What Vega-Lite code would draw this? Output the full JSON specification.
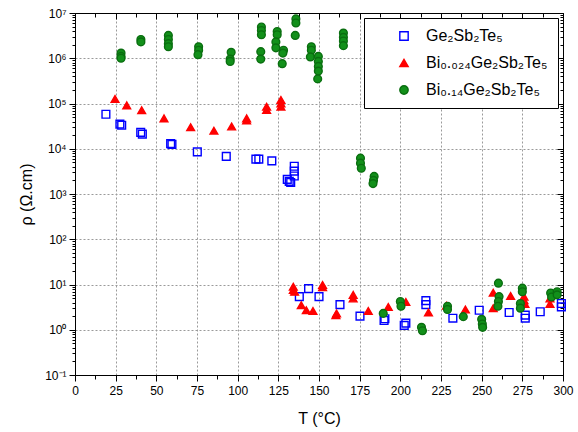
{
  "$schema": "https://vega.github.io/schema/vega-lite/v6.json",
  "width": 488,
  "height": 362,
  "autosize": "none",
  "padding": {"left": 75, "top": 13, "right": 15, "bottom": 57},
  "background": "white",
  "config": {
    "view": {"stroke": "black", "strokeWidth": 1},
    "font": "Liberation Sans",
    "axis": {"domainColor": "black", "tickColor": "black", "labelColor": "black", "titleColor": "black", "labelFont": "Liberation Sans", "titleFont": "Liberation Sans", "titleFontWeight": "normal"}
  },
  "datasets": {
    "pts": [
      {"series": "Ge₂Sb₂Te₅", "T": 19, "rho": 58000},
      {"series": "Ge₂Sb₂Te₅", "T": 27.6, "rho": 35000},
      {"series": "Ge₂Sb₂Te₅", "T": 28.7, "rho": 33000},
      {"series": "Ge₂Sb₂Te₅", "T": 40.4, "rho": 23000},
      {"series": "Ge₂Sb₂Te₅", "T": 41.4, "rho": 21000},
      {"series": "Ge₂Sb₂Te₅", "T": 58.8, "rho": 13000},
      {"series": "Ge₂Sb₂Te₅", "T": 59.6, "rho": 12500},
      {"series": "Ge₂Sb₂Te₅", "T": 75.2, "rho": 8500},
      {"series": "Ge₂Sb₂Te₅", "T": 93, "rho": 6800},
      {"series": "Ge₂Sb₂Te₅", "T": 111.2, "rho": 5900},
      {"series": "Ge₂Sb₂Te₅", "T": 113, "rho": 5900},
      {"series": "Ge₂Sb₂Te₅", "T": 121, "rho": 5400},
      {"series": "Ge₂Sb₂Te₅", "T": 130.5, "rho": 2100},
      {"series": "Ge₂Sb₂Te₅", "T": 131.7, "rho": 1900},
      {"series": "Ge₂Sb₂Te₅", "T": 132.6, "rho": 1800},
      {"series": "Ge₂Sb₂Te₅", "T": 134.8, "rho": 4100},
      {"series": "Ge₂Sb₂Te₅", "T": 134.8, "rho": 3200},
      {"series": "Ge₂Sb₂Te₅", "T": 134.8, "rho": 2500},
      {"series": "Ge₂Sb₂Te₅", "T": 137.9, "rho": 5.4},
      {"series": "Ge₂Sb₂Te₅", "T": 143.6, "rho": 8.1},
      {"series": "Ge₂Sb₂Te₅", "T": 150, "rho": 5.4},
      {"series": "Ge₂Sb₂Te₅", "T": 162.9, "rho": 3.6},
      {"series": "Ge₂Sb₂Te₅", "T": 175.2, "rho": 2.0},
      {"series": "Ge₂Sb₂Te₅", "T": 190, "rho": 1.6},
      {"series": "Ge₂Sb₂Te₅", "T": 190.5, "rho": 1.75},
      {"series": "Ge₂Sb₂Te₅", "T": 202.4, "rho": 1.25},
      {"series": "Ge₂Sb₂Te₅", "T": 203.4, "rho": 1.4},
      {"series": "Ge₂Sb₂Te₅", "T": 215.7, "rho": 4.4},
      {"series": "Ge₂Sb₂Te₅", "T": 215.7, "rho": 3.6},
      {"series": "Ge₂Sb₂Te₅", "T": 232.3, "rho": 1.8},
      {"series": "Ge₂Sb₂Te₅", "T": 248.5, "rho": 2.7},
      {"series": "Ge₂Sb₂Te₅", "T": 266.9, "rho": 2.4},
      {"series": "Ge₂Sb₂Te₅", "T": 276.8, "rho": 2.1},
      {"series": "Ge₂Sb₂Te₅", "T": 276.8, "rho": 1.8},
      {"series": "Ge₂Sb₂Te₅", "T": 286, "rho": 2.5},
      {"series": "Ge₂Sb₂Te₅", "T": 299, "rho": 3.8},
      {"series": "Ge₂Sb₂Te₅", "T": 299, "rho": 3.2},
      {"series": "Bi₀.₀₂₄Ge₂Sb₂Te₅", "T": 24.6, "rho": 126000},
      {"series": "Bi₀.₀₂₄Ge₂Sb₂Te₅", "T": 31.8, "rho": 91000},
      {"series": "Bi₀.₀₂₄Ge₂Sb₂Te₅", "T": 41, "rho": 71000},
      {"series": "Bi₀.₀₂₄Ge₂Sb₂Te₅", "T": 54.7, "rho": 47000},
      {"series": "Bi₀.₀₂₄Ge₂Sb₂Te₅", "T": 71.1, "rho": 30000},
      {"series": "Bi₀.₀₂₄Ge₂Sb₂Te₅", "T": 85.4, "rho": 25000},
      {"series": "Bi₀.₀₂₄Ge₂Sb₂Te₅", "T": 96.3, "rho": 31000},
      {"series": "Bi₀.₀₂₄Ge₂Sb₂Te₅", "T": 105.5, "rho": 47000},
      {"series": "Bi₀.₀₂₄Ge₂Sb₂Te₅", "T": 105.5, "rho": 42000},
      {"series": "Bi₀.₀₂₄Ge₂Sb₂Te₅", "T": 117.8, "rho": 85000},
      {"series": "Bi₀.₀₂₄Ge₂Sb₂Te₅", "T": 117.8, "rho": 72000},
      {"series": "Bi₀.₀₂₄Ge₂Sb₂Te₅", "T": 126.6, "rho": 120000},
      {"series": "Bi₀.₀₂₄Ge₂Sb₂Te₅", "T": 126.6, "rho": 100000},
      {"series": "Bi₀.₀₂₄Ge₂Sb₂Te₅", "T": 126.6, "rho": 85000},
      {"series": "Bi₀.₀₂₄Ge₂Sb₂Te₅", "T": 134.2, "rho": 8.9},
      {"series": "Bi₀.₀₂₄Ge₂Sb₂Te₅", "T": 134.2, "rho": 7.6},
      {"series": "Bi₀.₀₂₄Ge₂Sb₂Te₅", "T": 135, "rho": 6.9},
      {"series": "Bi₀.₀₂₄Ge₂Sb₂Te₅", "T": 139.1, "rho": 3.5},
      {"series": "Bi₀.₀₂₄Ge₂Sb₂Te₅", "T": 142.2, "rho": 2.7},
      {"series": "Bi₀.₀₂₄Ge₂Sb₂Te₅", "T": 146.3, "rho": 2.6},
      {"series": "Bi₀.₀₂₄Ge₂Sb₂Te₅", "T": 152.2, "rho": 9.8},
      {"series": "Bi₀.₀₂₄Ge₂Sb₂Te₅", "T": 152.2, "rho": 8.7},
      {"series": "Bi₀.₀₂₄Ge₂Sb₂Te₅", "T": 160.4, "rho": 2.1},
      {"series": "Bi₀.₀₂₄Ge₂Sb₂Te₅", "T": 160.8, "rho": 2.3},
      {"series": "Bi₀.₀₂₄Ge₂Sb₂Te₅", "T": 171, "rho": 5.9},
      {"series": "Bi₀.₀₂₄Ge₂Sb₂Te₅", "T": 171, "rho": 4.9},
      {"series": "Bi₀.₀₂₄Ge₂Sb₂Te₅", "T": 180.3, "rho": 2.6},
      {"series": "Bi₀.₀₂₄Ge₂Sb₂Te₅", "T": 192.6, "rho": 3.2},
      {"series": "Bi₀.₀₂₄Ge₂Sb₂Te₅", "T": 203.4, "rho": 4.1},
      {"series": "Bi₀.₀₂₄Ge₂Sb₂Te₅", "T": 217.3, "rho": 2.4},
      {"series": "Bi₀.₀₂₄Ge₂Sb₂Te₅", "T": 228.4, "rho": 3.4},
      {"series": "Bi₀.₀₂₄Ge₂Sb₂Te₅", "T": 240, "rho": 2.8},
      {"series": "Bi₀.₀₂₄Ge₂Sb₂Te₅", "T": 257.1, "rho": 6.6},
      {"series": "Bi₀.₀₂₄Ge₂Sb₂Te₅", "T": 257.1, "rho": 3.0},
      {"series": "Bi₀.₀₂₄Ge₂Sb₂Te₅", "T": 267.8, "rho": 5.6},
      {"series": "Bi₀.₀₂₄Ge₂Sb₂Te₅", "T": 276, "rho": 5.4},
      {"series": "Bi₀.₀₂₄Ge₂Sb₂Te₅", "T": 276, "rho": 4.5},
      {"series": "Bi₀.₀₂₄Ge₂Sb₂Te₅", "T": 276.6, "rho": 3.7},
      {"series": "Bi₀.₀₂₄Ge₂Sb₂Te₅", "T": 292, "rho": 4.9},
      {"series": "Bi₀.₀₂₄Ge₂Sb₂Te₅", "T": 292, "rho": 3.7},
      {"series": "Bi₀.₁₄Ge₂Sb₂Te₅", "T": 28.3, "rho": 1300000},
      {"series": "Bi₀.₁₄Ge₂Sb₂Te₅", "T": 28.3, "rho": 1100000},
      {"series": "Bi₀.₁₄Ge₂Sb₂Te₅", "T": 28.3, "rho": 1000000},
      {"series": "Bi₀.₁₄Ge₂Sb₂Te₅", "T": 40.5, "rho": 2600000},
      {"series": "Bi₀.₁₄Ge₂Sb₂Te₅", "T": 40.5, "rho": 2300000},
      {"series": "Bi₀.₁₄Ge₂Sb₂Te₅", "T": 57.4, "rho": 3200000},
      {"series": "Bi₀.₁₄Ge₂Sb₂Te₅", "T": 57.4, "rho": 2600000},
      {"series": "Bi₀.₁₄Ge₂Sb₂Te₅", "T": 57.4, "rho": 2100000},
      {"series": "Bi₀.₁₄Ge₂Sb₂Te₅", "T": 57.4, "rho": 1800000},
      {"series": "Bi₀.₁₄Ge₂Sb₂Te₅", "T": 76, "rho": 1800000},
      {"series": "Bi₀.₁₄Ge₂Sb₂Te₅", "T": 76, "rho": 1500000},
      {"series": "Bi₀.₁₄Ge₂Sb₂Te₅", "T": 75.6, "rho": 1200000},
      {"series": "Bi₀.₁₄Ge₂Sb₂Te₅", "T": 96, "rho": 1350000},
      {"series": "Bi₀.₁₄Ge₂Sb₂Te₅", "T": 95.4, "rho": 960000},
      {"series": "Bi₀.₁₄Ge₂Sb₂Te₅", "T": 95.4, "rho": 850000},
      {"series": "Bi₀.₁₄Ge₂Sb₂Te₅", "T": 114.6, "rho": 4900000},
      {"series": "Bi₀.₁₄Ge₂Sb₂Te₅", "T": 114.6, "rho": 4100000},
      {"series": "Bi₀.₁₄Ge₂Sb₂Te₅", "T": 114.6, "rho": 3300000},
      {"series": "Bi₀.₁₄Ge₂Sb₂Te₅", "T": 114.2, "rho": 1400000},
      {"series": "Bi₀.₁₄Ge₂Sb₂Te₅", "T": 114.2, "rho": 960000},
      {"series": "Bi₀.₁₄Ge₂Sb₂Te₅", "T": 124.3, "rho": 3900000},
      {"series": "Bi₀.₁₄Ge₂Sb₂Te₅", "T": 124.3, "rho": 3300000},
      {"series": "Bi₀.₁₄Ge₂Sb₂Te₅", "T": 123.5, "rho": 2300000},
      {"series": "Bi₀.₁₄Ge₂Sb₂Te₅", "T": 123.5, "rho": 1700000},
      {"series": "Bi₀.₁₄Ge₂Sb₂Te₅", "T": 128.2, "rho": 1500000},
      {"series": "Bi₀.₁₄Ge₂Sb₂Te₅", "T": 127.8, "rho": 1300000},
      {"series": "Bi₀.₁₄Ge₂Sb₂Te₅", "T": 127.4, "rho": 760000},
      {"series": "Bi₀.₁₄Ge₂Sb₂Te₅", "T": 135.8, "rho": 7400000},
      {"series": "Bi₀.₁₄Ge₂Sb₂Te₅", "T": 135.8, "rho": 6000000},
      {"series": "Bi₀.₁₄Ge₂Sb₂Te₅", "T": 135.4, "rho": 3200000},
      {"series": "Bi₀.₁₄Ge₂Sb₂Te₅", "T": 145.3, "rho": 1800000},
      {"series": "Bi₀.₁₄Ge₂Sb₂Te₅", "T": 145.3, "rho": 1500000},
      {"series": "Bi₀.₁₄Ge₂Sb₂Te₅", "T": 144.7, "rho": 1070000},
      {"series": "Bi₀.₁₄Ge₂Sb₂Te₅", "T": 149.6, "rho": 1100000},
      {"series": "Bi₀.₁₄Ge₂Sb₂Te₅", "T": 149.6, "rho": 850000},
      {"series": "Bi₀.₁₄Ge₂Sb₂Te₅", "T": 149.6, "rho": 660000},
      {"series": "Bi₀.₁₄Ge₂Sb₂Te₅", "T": 149.6, "rho": 520000},
      {"series": "Bi₀.₁₄Ge₂Sb₂Te₅", "T": 149.2, "rho": 350000},
      {"series": "Bi₀.₁₄Ge₂Sb₂Te₅", "T": 165, "rho": 3600000},
      {"series": "Bi₀.₁₄Ge₂Sb₂Te₅", "T": 165, "rho": 2900000},
      {"series": "Bi₀.₁₄Ge₂Sb₂Te₅", "T": 165, "rho": 2400000},
      {"series": "Bi₀.₁₄Ge₂Sb₂Te₅", "T": 165, "rho": 1900000},
      {"series": "Bi₀.₁₄Ge₂Sb₂Te₅", "T": 175.5, "rho": 6200},
      {"series": "Bi₀.₁₄Ge₂Sb₂Te₅", "T": 175.5, "rho": 4800},
      {"series": "Bi₀.₁₄Ge₂Sb₂Te₅", "T": 176, "rho": 3700},
      {"series": "Bi₀.₁₄Ge₂Sb₂Te₅", "T": 183.9, "rho": 2450},
      {"series": "Bi₀.₁₄Ge₂Sb₂Te₅", "T": 183.5, "rho": 2000},
      {"series": "Bi₀.₁₄Ge₂Sb₂Te₅", "T": 183.2, "rho": 1700},
      {"series": "Bi₀.₁₄Ge₂Sb₂Te₅", "T": 189.5, "rho": 2.3},
      {"series": "Bi₀.₁₄Ge₂Sb₂Te₅", "T": 200, "rho": 4.2},
      {"series": "Bi₀.₁₄Ge₂Sb₂Te₅", "T": 200.4, "rho": 3.3},
      {"series": "Bi₀.₁₄Ge₂Sb₂Te₅", "T": 213, "rho": 1.13},
      {"series": "Bi₀.₁₄Ge₂Sb₂Te₅", "T": 213.6, "rho": 0.95},
      {"series": "Bi₀.₁₄Ge₂Sb₂Te₅", "T": 229, "rho": 3.3},
      {"series": "Bi₀.₁₄Ge₂Sb₂Te₅", "T": 229, "rho": 2.8},
      {"series": "Bi₀.₁₄Ge₂Sb₂Te₅", "T": 238.7, "rho": 1.95},
      {"series": "Bi₀.₁₄Ge₂Sb₂Te₅", "T": 250, "rho": 1.7},
      {"series": "Bi₀.₁₄Ge₂Sb₂Te₅", "T": 250.4, "rho": 1.34},
      {"series": "Bi₀.₁₄Ge₂Sb₂Te₅", "T": 250.6, "rho": 1.13},
      {"series": "Bi₀.₁₄Ge₂Sb₂Te₅", "T": 260.3, "rho": 10.7},
      {"series": "Bi₀.₁₄Ge₂Sb₂Te₅", "T": 260.7, "rho": 5.4},
      {"series": "Bi₀.₁₄Ge₂Sb₂Te₅", "T": 260.3, "rho": 4.2},
      {"series": "Bi₀.₁₄Ge₂Sb₂Te₅", "T": 260, "rho": 3.3},
      {"series": "Bi₀.₁₄Ge₂Sb₂Te₅", "T": 275, "rho": 8.3},
      {"series": "Bi₀.₁₄Ge₂Sb₂Te₅", "T": 275, "rho": 6.9},
      {"series": "Bi₀.₁₄Ge₂Sb₂Te₅", "T": 273.8, "rho": 3.8},
      {"series": "Bi₀.₁₄Ge₂Sb₂Te₅", "T": 273.8, "rho": 3.0},
      {"series": "Bi₀.₁₄Ge₂Sb₂Te₅", "T": 292.4, "rho": 6.5},
      {"series": "Bi₀.₁₄Ge₂Sb₂Te₅", "T": 293, "rho": 5.3},
      {"series": "Bi₀.₁₄Ge₂Sb₂Te₅", "T": 296.4, "rho": 6.9},
      {"series": "Bi₀.₁₄Ge₂Sb₂Te₅", "T": 296.4, "rho": 5.9}
    ]
  },
  "data": {"name": "pts"},
  "layer": [
    {
      "mark": {"type": "point", "filled": true, "size": 60, "strokeWidth": 1.4, "opacity": 1},
      "encoding": {
        "x": {
          "field": "T", "type": "quantitative",
          "scale": {"domain": [0, 300], "nice": false},
          "axis": {
            "orient": "bottom",
            "title": "T (°C)", "titleFontSize": 16, "titlePadding": 14,
            "values": [0,12.5,25,37.5,50,62.5,75,87.5,100,112.5,125,137.5,150,162.5,175,187.5,200,212.5,225,237.5,250,262.5,275,287.5,300],
            "labelExpr": "datum.value % 25 == 0 ? format(datum.value, 'd') : ''",
            "labelFontSize": 12, "labelPadding": 4, "labelFlush": false,
            "tickSize": {"condition": {"test": "datum.value % 25 == 0", "value": 6}, "value": 4},
            "grid": true, "gridColor": "#9a9a9a", "gridDash": [2, 2], "gridWidth": 1,
            "gridOpacity": {"condition": {"test": "datum.value % 25 == 0", "value": 1}, "value": 0}
          }
        },
        "y": {
          "field": "rho", "type": "quantitative",
          "scale": {"type": "log", "domain": [0.1, 10000000], "nice": false},
          "axis": {
            "orient": "left",
            "title": "ρ (Ω.cm)", "titleFontSize": 16, "titlePadding": 10,
            "values": [0.1,0.2,0.3,0.4,0.5,0.6,0.7,0.8,0.9,1,2,3,4,5,6,7,8,9,10,20,30,40,50,60,70,80,90,100,200,300,400,500,600,700,800,900,1000,2000,3000,4000,5000,6000,7000,8000,9000,10000,20000,30000,40000,50000,60000,70000,80000,90000,100000,200000,300000,400000,500000,600000,700000,800000,900000,1000000,2000000,3000000,4000000,5000000,6000000,7000000,8000000,9000000,10000000],
            "labelExpr": "abs(log(datum.value)/LN10 - round(log(datum.value)/LN10)) < 0.001 ? ['10⁻¹','10⁰','10¹','10²','10³','10⁴','10⁵','10⁶','10⁷'][round(log(datum.value)/LN10) + 1] : ''",
            "labelFontSize": 12, "labelPadding": 3, "labelFlush": false,
            "tickSize": {"condition": {"test": "abs(log(datum.value)/LN10 - round(log(datum.value)/LN10)) < 0.001", "value": 6}, "value": 3},
            "grid": true, "gridColor": "#9a9a9a", "gridDash": [2, 2], "gridWidth": 1,
            "gridOpacity": {"condition": {"test": "abs(log(datum.value)/LN10 - round(log(datum.value)/LN10)) < 0.001", "value": 1}, "value": 0}
          }
        },
        "shape": {
          "field": "series", "type": "nominal",
          "scale": {"domain": ["Ge₂Sb₂Te₅", "Bi₀.₀₂₄Ge₂Sb₂Te₅", "Bi₀.₁₄Ge₂Sb₂Te₅"], "range": ["square", "triangle-up", "circle"]},
          "legend": {
            "orient": "none", "legendX": 289, "legendY": 5, "title": null,
            "strokeColor": "black", "fillColor": "white", "padding": 10,
            "labelFontSize": 16, "labelFont": "Liberation Sans", "labelColor": "black",
            "symbolOffset": 22, "labelOffset": 14, "rowPadding": 11, "symbolSize": 70, "symbolStrokeWidth": 1.4
          }
        },
        "fill": {
          "field": "series", "type": "nominal",
          "scale": {"domain": ["Ge₂Sb₂Te₅", "Bi₀.₀₂₄Ge₂Sb₂Te₅", "Bi₀.₁₄Ge₂Sb₂Te₅"], "range": ["rgba(255,255,255,0)", "#ff0000", "#12901a"]},
          "legend": {"orient": "none", "legendX": 289, "legendY": 5, "title": null}
        },
        "stroke": {
          "field": "series", "type": "nominal",
          "scale": {"domain": ["Ge₂Sb₂Te₅", "Bi₀.₀₂₄Ge₂Sb₂Te₅", "Bi₀.₁₄Ge₂Sb₂Te₅"], "range": ["#0000ff", "#ff0000", "#0a6e10"]},
          "legend": {"orient": "none", "legendX": 289, "legendY": 5, "title": null}
        }
      }
    },
    {
      "mark": {"type": "point", "opacity": 0},
      "encoding": {
        "x": {
          "field": "T", "type": "quantitative",
          "scale": {"domain": [0, 300], "nice": false},
          "axis": {
            "orient": "top", "title": null, "labels": false, "grid": false,
            "values": [0,12.5,25,37.5,50,62.5,75,87.5,100,112.5,125,137.5,150,162.5,175,187.5,200,212.5,225,237.5,250,262.5,275,287.5,300],
            "tickSize": {"condition": {"test": "datum.value % 25 == 0", "value": -6}, "value": -4}
          }
        },
        "y": {
          "field": "rho", "type": "quantitative",
          "scale": {"type": "log", "domain": [0.1, 10000000], "nice": false},
          "axis": {
            "orient": "right", "title": null, "labels": false, "grid": false,
            "values": [0.1,0.2,0.3,0.4,0.5,0.6,0.7,0.8,0.9,1,2,3,4,5,6,7,8,9,10,20,30,40,50,60,70,80,90,100,200,300,400,500,600,700,800,900,1000,2000,3000,4000,5000,6000,7000,8000,9000,10000,20000,30000,40000,50000,60000,70000,80000,90000,100000,200000,300000,400000,500000,600000,700000,800000,900000,1000000,2000000,3000000,4000000,5000000,6000000,7000000,8000000,9000000,10000000],
            "tickSize": {"condition": {"test": "abs(log(datum.value)/LN10 - round(log(datum.value)/LN10)) < 0.001", "value": -6}, "value": -3}
          }
        }
      }
    }
  ],
  "resolve": {"axis": {"x": "independent", "y": "independent"}}
}
